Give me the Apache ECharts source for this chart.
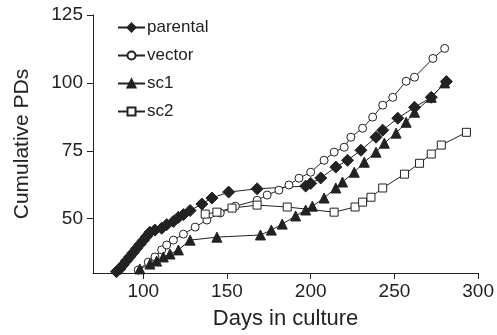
<!DOCTYPE html>
<html>
<head>
<meta charset="utf-8">
<script src="https://cdn.jsdelivr.net/npm/echarts@6/dist/echarts.min.js"></script>
<style>
  html, body { margin: 0; padding: 0; background: #fff; }
  #chart { width: 497px; height: 335px; }
</style>
</head>
<body>
<div id="chart"></div>
<script>
// values: [day, cumulative PDs]
const parental = [
  [82, 29.5], [84, 30.5], [86, 31.5], [88, 33], [90, 34.5], [92, 36], [94, 37.5],
  [96, 39], [98, 40.5], [100, 42], [102, 43.5], [104, 45], [107, 45.8], [111, 46.5],
  [114, 47.8], [118, 49], [121, 50.5], [124, 51.5], [128, 53], [135, 55.4],
  [141, 57.6], [151, 59.8], [168, 61], [197, 62], [200, 63], [206, 65], [215, 69],
  [222, 71.5], [230, 75.2], [239, 80], [243, 82.6], [252, 87], [262, 91],
  [272, 94.7], [281, 100.5]
];
const vector = [
  [97, 31.1], [103, 34], [107, 35.9], [111, 38.5], [114, 40.3], [118, 42.1],
  [124, 44.3], [131, 46.9], [138, 49.5], [146, 52.1], [155, 54.6], [168, 56.8],
  [174, 58.7], [181, 60.5], [187, 62.4], [193, 64.9], [200, 67.1], [208, 71.5],
  [214, 74.5], [220, 76.3], [224, 80], [231, 83.3], [237, 87.4], [243, 91.8],
  [249, 94.7], [257, 100.6], [262, 102.1], [273, 109], [280, 112.7]
];
const sc1 = [
  [98, 31.5], [104, 33.3], [108, 34.4], [112, 35.9], [116, 37], [121, 38.5],
  [128, 42.1], [144, 43.2], [170, 44], [176.5, 45.8], [183, 48], [191, 51],
  [197, 53.2], [201, 54.6], [208, 57.6], [215, 61.3], [219, 63.5], [226, 67.1],
  [232, 70.8], [239, 74.5], [244, 77.8], [251, 81.5], [257, 85.5], [262, 89.2],
  [272, 94.7], [280, 100]
];
const sc2 = [
  [137, 51.7], [144, 52.4], [153, 53.9], [168, 55], [186, 54.3], [214, 52.4],
  [226.5, 54.3], [231, 56.1], [236, 57.9], [243, 61.3], [256, 66.4], [265, 70.4],
  [272, 73.8], [278, 77.1], [293, 81.8]
];
const xTicks = [100, 150, 200, 250, 300];
const yTicks = [50, 75, 100, 125];

const font = "'Liberation Sans', Arial, sans-serif";
const ink = "#222";

const chart = echarts.init(document.getElementById("chart"));

const seriesOf = (name, data, symbol, size, filled) => ({
  name,
  type: "line",
  data,
  symbol,
  symbolSize: size,
  showSymbol: true,
  lineStyle: { color: ink, width: 1 },
  itemStyle: {
    color: filled ? ink : "#fff",
    borderColor: ink,
    borderWidth: 1,
  },
  emphasis: { disabled: true },
  animation: false,
});

chart.setOption({
  backgroundColor: "#fff",
  animation: false,
  textStyle: { fontFamily: font },
  grid: { left: 93, right: 18, top: 15, bottom: 62 },
  legend: {
    orient: "vertical",
    left: 112,
    top: 14,
    itemWidth: 27,
    itemHeight: 10,
    itemGap: 11,
    textStyle: { fontFamily: font, fontSize: 17, color: ink, padding: [0, 0, 0, -3] },
    data: ["parental", "vector", "sc1", "sc2"],
  },
  xAxis: {
    type: "value",
    min: 70,
    max: 300,
    name: "Days in culture",
    nameLocation: "middle",
    nameGap: 35,
    nameTextStyle: { fontFamily: font, fontSize: 22, color: ink },
    axisLine: { lineStyle: { color: ink, width: 1 } },
    axisTick: { show: true, length: 6, customValues: xTicks, lineStyle: { color: ink } },
    axisLabel: { customValues: xTicks, fontSize: 19, color: ink, margin: 9, fontFamily: font },
    splitLine: { show: false },
  },
  yAxis: {
    type: "value",
    min: 30,
    max: 125,
    name: "Cumulative PDs",
    nameLocation: "middle",
    nameGap: 60,
    nameTextStyle: { fontFamily: font, fontSize: 21, color: ink },
    axisLine: { show: true, lineStyle: { color: ink, width: 1 } },
    axisTick: { show: true, length: 6, customValues: yTicks, lineStyle: { color: ink } },
    axisLabel: { customValues: yTicks, fontSize: 19, color: ink, margin: 10, fontFamily: font },
    splitLine: { show: false },
  },
  series: [
    seriesOf("parental", parental, "diamond", 12, true),
    seriesOf("vector", vector, "circle", 8, false),
    seriesOf("sc1", sc1, "triangle", 10, true),
    seriesOf("sc2", sc2, "rect", 8, false),
  ],
});
</script>
</body>
</html>
